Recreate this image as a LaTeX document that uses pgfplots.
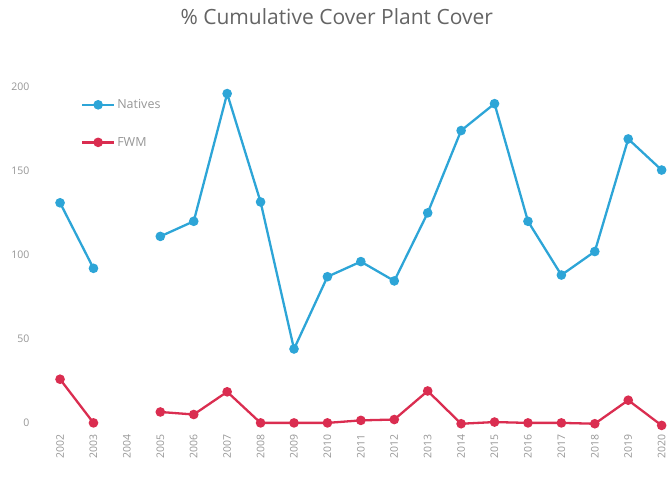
\documentclass[border=0pt]{standalone}
\usepackage{pgfplots}
\pgfplotsset{compat=1.18}
\usepackage{fontspec}
\setmainfont{Open Sans}
\definecolor{natblue}{RGB}{45,165,215}
\definecolor{fwmred}{RGB}{218,45,80}
\definecolor{txtgray}{RGB}{150,150,150}
\definecolor{titlegray}{RGB}{100,100,100}
\begin{document}
\begin{tikzpicture}
\path[use as bounding box] (-40pt,-54.6pt) rectangle (631pt,431.3pt);
\begin{axis}[
  at={(0,0)}, anchor=south west,
  scale only axis, width=630pt, height=371.3pt,
  xmin=2001.4, xmax=2020.25,
  ymin=-5, ymax=216,
  axis line style={draw=none},
  major tick length=0pt,
  xtick={2002,...,2020},
  ytick={0,50,100,150,200},
  xticklabel style={rotate=90, anchor=east, font=\fontsize{10.5}{12}\selectfont, text=txtgray, /pgf/number format/1000 sep=},
  yticklabel style={font=\fontsize{10.5}{12}\selectfont, text=txtgray, xshift=-7pt},
  /pgf/number format/assume math mode=true,
  unbounded coords=jump,
  clip=false,
  title={\% Cumulative Cover Plant Cover},
  title style={at={(rel axis cs:0.471,1)}, anchor=center, yshift=37pt, font=\fontsize{21}{23}\selectfont, text=titlegray},
  legend style={at={(rel axis cs:0.06,0.905)}, anchor=north west, draw=none, fill=none,
    font=\fontsize{12.5}{14}\selectfont, text=txtgray, row sep=23pt},
  legend cell align=left,
  legend image code/.code={\draw[#1] (0pt,0pt) -- (32pt,0pt); \path[#1] plot coordinates {(16pt,0pt)};},
]
\addplot[color=natblue, line width=2.3pt, mark=*, mark size=3.6pt] coordinates {
(2002,131) (2003,92) (2004,nan) (2005,111) (2006,120) (2007,196) (2008,131.5)
(2009,44) (2010,87) (2011,96) (2012,84.5) (2013,125) (2014,174) (2015,190)
(2016,120) (2017,88) (2018,102) (2019,169) (2020,150.5)};
\addlegendentry{Natives}
\addplot[color=fwmred, line width=2.3pt, mark=*, mark size=3.6pt] coordinates {
(2002,26) (2003,0) (2004,nan) (2005,6.5) (2006,5) (2007,18.5) (2008,0)
(2009,0) (2010,0) (2011,1.5) (2012,2) (2013,19) (2014,-0.5) (2015,0.5)
(2016,0) (2017,0) (2018,-0.5) (2019,13.5) (2020,-1.5)};
\addlegendentry{FWM}
\end{axis}
\end{tikzpicture}
\end{document}
